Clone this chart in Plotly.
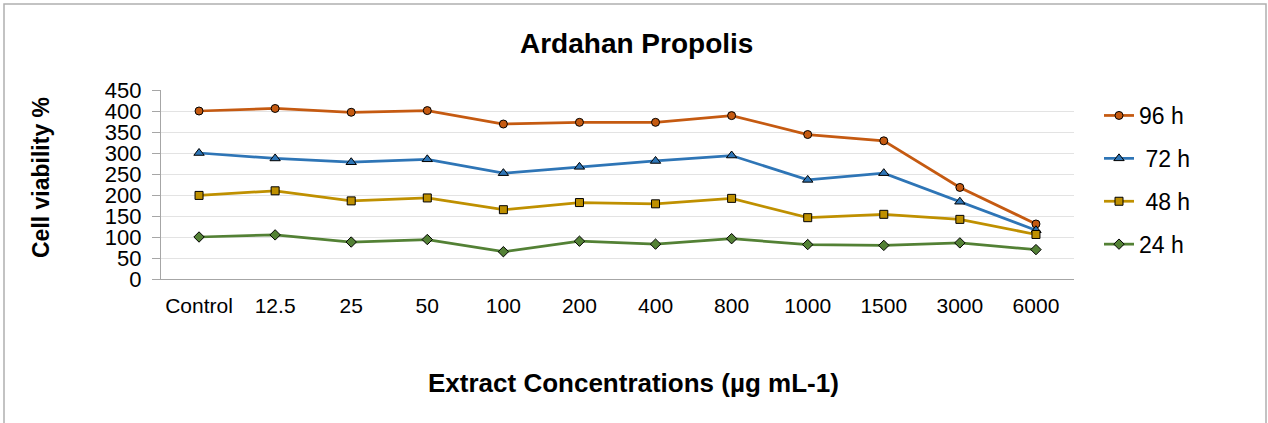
import plotly.graph_objects as go

categories = ["Control", "12.5", "25", "50", "100", "200", "400", "800", "1000", "1500", "3000", "6000"]
h96 = [400, 406, 397, 401, 369, 373, 373, 389, 344, 329, 218, 131]
h72 = [300, 287, 278, 285, 252, 267, 281, 294, 236, 252, 184, 116]
h48 = [199, 210, 186, 193, 165, 182, 179, 192, 146, 154, 142, 106]
h24 = [100, 105, 88, 94, 65, 90, 83, 96, 82, 80, 86, 70]
series_names = ["96 h", "\u00a072 h", "\u00a048 h", "24 h"]
y_ticks = [0, 50, 100, 150, 200, 250, 300, 350, 400, 450]

FONT = "Liberation Sans, Arial, sans-serif"
W, H = 1268, 423
L, T = 161, 90
R = W - 1074
B = H - 279
pw, ph = W - L - R, H - T - B

def px(xp):
    return (xp - L) / pw

def py(yp):
    return (H - B - yp) / ph

styles = [
    (h96, "#C55A11", "circle", 8),
    (h72, "#2E75B6", "triangle-up", 9),
    (h48, "#BF9000", "square", 8),
    (h24, "#538135", "diamond", 8),
]

fig = go.Figure()
for name, (vals, col, sym, sz) in zip(series_names, styles):
    fig.add_trace(go.Scatter(
        x=categories, y=vals, name=name, mode="lines+markers",
        legendgroup=name,
        line=dict(color=col, width=2.75),
        marker=dict(symbol=sym, size=sz, color=col, line=dict(color="black", width=1)),
    ))

fig.update_layout(
    width=W, height=H,
    margin=dict(l=L, r=R, t=T, b=B, autoexpand=False),
    paper_bgcolor="white", plot_bgcolor="white",
    font=dict(family=FONT, color="black"),
    showlegend=True,
    legend=dict(x=px(1099), xanchor="left", y=py(94), yanchor="top",
                font=dict(size=23, family=FONT), tracegroupgap=10,
                bgcolor="rgba(0,0,0,0)"),
    xaxis=dict(type="category", range=[-0.5, len(categories) - 0.5],
               showgrid=False, showline=True, linecolor="#a6a6a6",
               linewidth=1.3, ticks="", tickfont=dict(size=21, family=FONT),
               ticklabelstandoff=8, fixedrange=True),
    yaxis=dict(range=[0, 450], tickvals=y_ticks, showgrid=True, gridcolor="#e3e3e3",
               gridwidth=1.3, showline=True, linecolor="#a6a6a6", linewidth=1.3,
               ticks="outside", ticklen=8, tickcolor="#a6a6a6",
               tickfont=dict(size=22, family=FONT), ticklabelstandoff=6,
               zeroline=False, fixedrange=True),
    annotations=[
        dict(text="<b>Ardahan Propolis</b>", xref="paper", yref="paper",
             x=px(636), y=py(43), xanchor="center", yanchor="middle",
             showarrow=False, font=dict(size=28, family=FONT)),
        dict(text="<b>Extract Concentrations (µg mL-1)</b>", xref="paper", yref="paper",
             x=px(633), y=py(383), xanchor="center", yanchor="middle",
             showarrow=False, font=dict(size=26, family=FONT)),
        dict(text="<b>Cell viability %</b>", xref="paper", yref="paper",
             x=px(41), y=py(178), xanchor="center", yanchor="middle", textangle=-90,
             showarrow=False, font=dict(size=23, family=FONT)),
    ],
    shapes=[
        dict(type="rect", xref="paper", yref="paper",
             x0=px(4), x1=px(1266), y0=py(440), y1=py(4),
             line=dict(color="#b0b0b0", width=1.5), layer="below"),
    ],
)

fig.write_html("out.html",
               config={"displayModeBar": False},
               post_script="document.body.style.margin='0';document.body.style.overflow='hidden';")
